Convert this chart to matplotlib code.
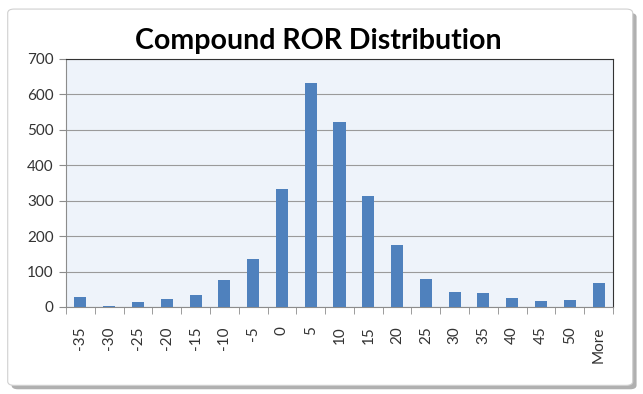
import numpy as np
import matplotlib.pyplot as plt
from matplotlib.patches import FancyBboxPatch

categories = ['-35', '-30', '-25', '-20', '-15', '-10', '-5', '0', '5', '10',
              '15', '20', '25', '30', '35', '40', '45', '50', 'More']
counts = [28, 3, 14, 22, 33, 76, 136, 333, 632, 521,
          312, 175, 78, 41, 39, 26, 17, 20, 69]

plt.rcParams['font.family'] = ['Lato', 'DejaVu Sans']

fig = plt.figure(figsize=(6.43, 3.94), dpi=100)

# chart border with shadow
shadow = FancyBboxPatch((0.018, 0.012), 0.972, 0.955, boxstyle='round,pad=0,rounding_size=0.01',
                        transform=fig.transFigure, facecolor='#b0b0b0', edgecolor='none', zorder=-2)
frame = FancyBboxPatch((0.012, 0.022), 0.972, 0.955, boxstyle='round,pad=0,rounding_size=0.01',
                       transform=fig.transFigure, facecolor='white', edgecolor='#d0d0d0', lw=0.8, zorder=-1)
fig.patches.extend([shadow, frame])

ax = fig.add_axes([66 / 643, 1 - 307 / 394, (613 - 66) / 643, (307 - 59) / 394])
ax.set_facecolor('#eef3fa')
x = np.arange(len(categories))
ax.bar(x, counts, width=0.42, color='#4f81bd', zorder=3)

ax.set_xlim(-0.5, len(categories) - 0.5)
ax.set_ylim(0, 700)
ax.set_yticks(range(0, 701, 100))
ax.yaxis.grid(True, color='#9a9a9a', lw=0.8, zorder=1)
ax.set_axisbelow(True)
ax.set_xticks(x)
ax.set_xticklabels(categories, rotation=90, fontsize=11)
ax.set_xticks(np.arange(-0.5, len(categories), 1), minor=True)
ax.tick_params(axis='x', which='major', length=0, pad=14, labelcolor='#333333')
ax.tick_params(axis='x', which='minor', length=5, color='#8c8c8c')
ax.tick_params(axis='y', length=5, color='#8c8c8c', labelsize=11, pad=4, labelcolor='#333333')
for side in ['left', 'bottom']:
    ax.spines[side].set_color('#8c8c8c')
for side in ['top', 'right']:
    ax.spines[side].set_color('#333333')

fig.text(0.495, 0.895, 'Compound ROR Distribution', ha='center', va='center',
         fontsize=20.5, fontweight='bold')

fig.savefig('out.png', dpi=100)
